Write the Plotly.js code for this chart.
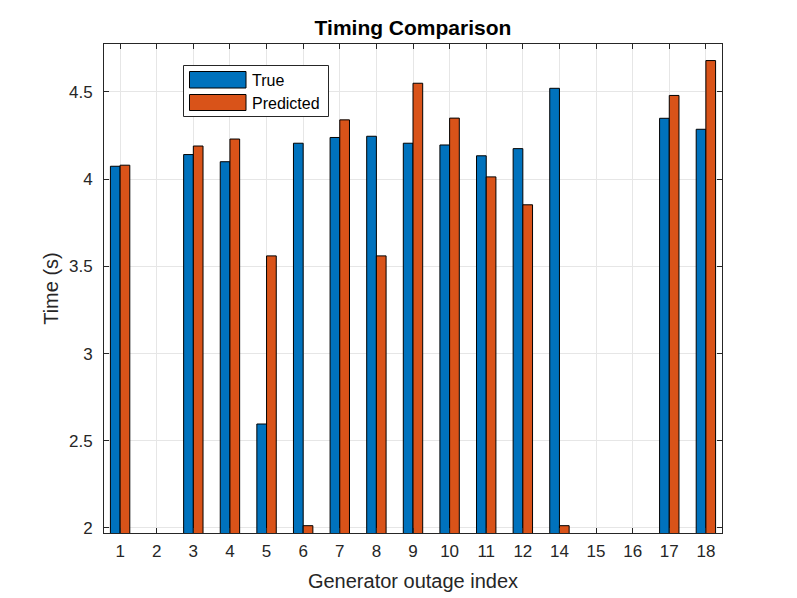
<!DOCTYPE html>
<html>
<head>
<meta charset="utf-8">
<script src="https://cdn.plot.ly/plotly-3.0.1.min.js"></script>
<style>html,body{margin:0;padding:0;background:#fff;}</style>
</head>
<body>
<div id="chart" style="width:797px;height:598px;"></div>
<script>
const categories = ["1","2","3","4","5","6","7","8","9","10","11","12","14","15","16","17","18"];
const trueTimes = [4.074, null, 4.141, 4.10, 2.596, 4.206, 4.239, 4.246, 4.206, 4.196, 4.134, 4.175, 4.521, null, null, 4.349, 4.286];
const predictedTimes = [4.08, null, 4.19, 4.23, 3.56, 2.013, 4.34, 3.56, 4.55, 4.35, 4.013, 3.853, 2.013, null, null, 4.48, 4.68];
const seriesNames = ["True", "Predicted"];
const seriesColors = ["#0072BD", "#D95319"];
const yTicks = [2, 2.5, 3, 3.5, 4, 4.5];

const xIdx = categories.map((c, i) => i + 1);
const txtColor = '#262626';

const traces = [
  {type: 'bar', name: seriesNames[0], x: xIdx, y: trueTimes, base: 0,
   marker: {color: seriesColors[0], line: {color: '#000000', width: 1}}},
  {type: 'bar', name: seriesNames[1], x: xIdx, y: predictedTimes, base: 0,
   marker: {color: seriesColors[1], line: {color: '#000000', width: 1}}}
];

// Manual MATLAB-style legend (box + wide swatches + labels), in paper coordinates
const L = 104, T = 44, W = 618, H = 489;
const px = v => (v - L) / W;
const py = v => (T + H - v) / H;
const shapes = [
  {type: 'rect', xref: 'paper', yref: 'paper', x0: px(183.5), x1: px(328.5), y0: py(116.5), y1: py(65.5),
   fillcolor: '#ffffff', line: {color: txtColor, width: 1}, layer: 'above'},
  {type: 'rect', xref: 'paper', yref: 'paper', x0: px(189.5), x1: px(246), y0: py(88), y1: py(71.5),
   fillcolor: seriesColors[0], line: {color: '#000000', width: 1}, layer: 'above'},
  {type: 'rect', xref: 'paper', yref: 'paper', x0: px(189.5), x1: px(246), y0: py(110.5), y1: py(94.5),
   fillcolor: seriesColors[1], line: {color: '#000000', width: 1}, layer: 'above'}
];
const annotations = [
  {xref: 'paper', yref: 'paper', x: px(250), y: py(80), xanchor: 'left', yanchor: 'middle',
   text: seriesNames[0], showarrow: false, font: {size: 16, color: '#000000'}},
  {xref: 'paper', yref: 'paper', x: px(250), y: py(103), xanchor: 'left', yanchor: 'middle',
   text: seriesNames[1], showarrow: false, font: {size: 16, color: '#000000'}}
];

const layout = {
  width: 797, height: 598,
  margin: {l: 104, r: 75, t: 44, b: 65},
  paper_bgcolor: '#ffffff', plot_bgcolor: '#ffffff',
  font: {family: 'Liberation Sans, Arial, sans-serif', size: 14, color: txtColor},
  title: {text: '<b>Timing Comparison</b>', x: 0.5, xanchor: 'center', xref: 'paper', y: 0.953, yanchor: 'middle',
          font: {size: 21, color: '#000000'}},
  barmode: 'group', bargap: 0.47, bargroupgap: 0,
  showlegend: false,
  shapes: shapes,
  annotations: annotations,
  xaxis: {
    range: [0.56, 17.44], tickmode: 'array', tickvals: xIdx, ticktext: categories,
    showgrid: true, gridcolor: '#e6e6e6', zeroline: false,
    showline: true, linecolor: txtColor, linewidth: 1, mirror: 'ticks',
    ticks: 'inside', ticklen: 5, tickcolor: txtColor,
    tickfont: {size: 17, color: txtColor}, ticklabelstandoff: 3,
    title: {text: 'Generator outage index', font: {size: 20, color: txtColor}, standoff: 13}
  },
  yaxis: {
    range: [1.971, 4.775], tickmode: 'array', tickvals: yTicks,
    ticktext: yTicks.map(String),
    showgrid: true, gridcolor: '#e6e6e6', zeroline: false,
    showline: true, linecolor: txtColor, linewidth: 1, mirror: 'ticks',
    ticks: 'inside', ticklen: 5, tickcolor: txtColor,
    tickfont: {size: 17, color: txtColor}, ticklabelstandoff: 7,
    title: {text: 'Time (s)', font: {size: 20, color: txtColor}, standoff: 4}
  }
};

Plotly.newPlot('chart', traces, layout, {displayModeBar: false, staticPlot: true});
</script>
</body>
</html>
